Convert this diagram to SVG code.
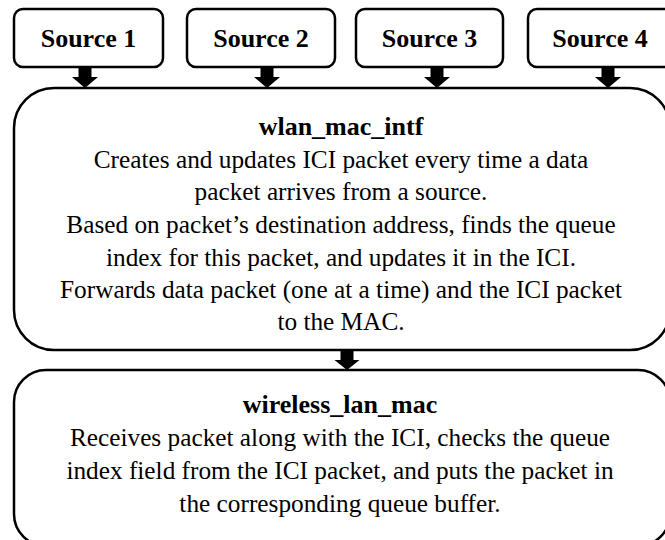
<svg xmlns="http://www.w3.org/2000/svg" width="665" height="540" viewBox="0 0 665 540">
<style>
.box{fill:#fff;stroke:#000;stroke-width:2.5}
text{font-family:"Liberation Serif","Times New Roman",serif;text-anchor:middle;fill:#000}
.b{font-weight:bold;font-size:26px}
.r{font-size:25.3px}
.arr{fill:#000;stroke:none}
</style>
<rect width="665" height="540" fill="#fff"/>
<g id="source1"><rect class="box" x="14" y="9" width="149" height="58" rx="9"/><text class="b" x="88.5" y="47">Source 1</text></g>
<g id="source2"><rect class="box" x="187" y="9" width="148" height="58" rx="9"/><text class="b" x="261" y="47">Source 2</text></g>
<g id="source3"><rect class="box" x="356" y="9" width="147" height="58" rx="9"/><text class="b" x="429.5" y="47">Source 3</text></g>
<g id="source4"><rect class="box" x="528" y="9" width="148" height="58" rx="9"/><text class="b" x="600" y="47">Source 4</text></g>
<g id="wlan_mac_intf"><rect class="box" x="14" y="88" width="656" height="262" rx="40"/>
<text class="b" x="341" y="135">wlan_mac_intf</text>
<text class="r" x="341" y="168">Creates and updates ICI packet every time a data</text>
<text class="r" x="341" y="200">packet arrives from a source.</text>
<text class="r" x="341" y="233">Based on packet’s destination address, finds the queue</text>
<text class="r" x="341" y="266">index for this packet, and updates it in the ICI.</text>
<text class="r" x="341" y="298">Forwards data packet (one at a time) and the ICI packet</text>
<text class="r" x="341" y="330">to the MAC.</text>
</g>
<g id="wireless_lan_mac"><rect class="box" x="14" y="370" width="656" height="176" rx="32"/>
<text class="b" x="340" y="413">wireless_lan_mac</text>
<text class="r" x="340" y="446">Receives packet along with the ICI, checks the queue</text>
<text class="r" x="340" y="479">index field from the ICI packet, and puts the packet in</text>
<text class="r" x="340" y="512">the corresponding queue buffer.</text>
</g>
<g id="connectors">
<path class="arr" d="M78.5,67 h13 v10 h6.5 l-13,11 l-13,-11 h6.5 z"/>
<path class="arr" d="M260.5,67 h13 v10 h6.5 l-13,11 l-13,-11 h6.5 z"/>
<path class="arr" d="M430.5,67 h13 v10 h6.5 l-13,11 l-13,-11 h6.5 z"/>
<path class="arr" d="M601.5,67 h13 v10 h6.5 l-13,11 l-13,-11 h6.5 z"/>
<path class="arr" d="M340.5,350 h13 v10 h6 l-12.5,10 l-12.5,-10 h6 z"/>
</g>
</svg>
